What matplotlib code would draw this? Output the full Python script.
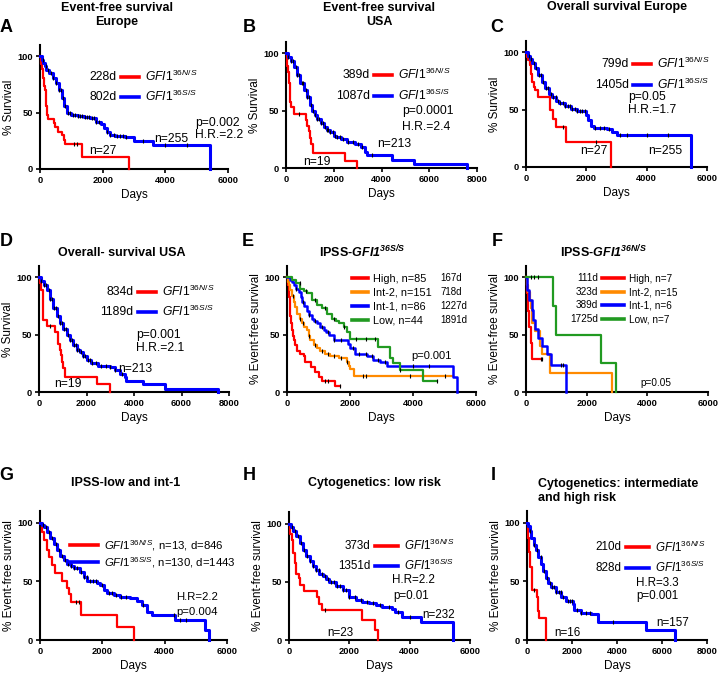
import numpy as np
import matplotlib
matplotlib.use("Agg")
import matplotlib.pyplot as plt
from matplotlib.lines import Line2D

plt.rcParams['font.family'] = ['Liberation Sans', 'DejaVu Sans']
plt.rcParams['mathtext.fontset'] = 'custom'
plt.rcParams['mathtext.rm'] = 'Liberation Sans'
plt.rcParams['mathtext.it'] = 'Liberation Sans:italic'
plt.rcParams['mathtext.bf'] = 'Liberation Sans:bold'
plt.rcParams['mathtext.bfit'] = 'Liberation Sans:italic:bold'

RED = '#ff0000'
BLUE = '#0000ff'
ORANGE = '#ff8a00'
GREEN = '#219a21'

NS = r'$\mathit{GFI1}^{\mathit{36N/S}}$'
SS = r'$\mathit{GFI1}^{\mathit{36S/S}}$'

#### data: (days, % surviving) step points + censor times
## A  event-free survival, Europe
a_ns_t = [0, 20, 40, 60, 80, 100, 120, 140, 160, 180, 200, 228, 270, 460, 480, 560, 700, 760, 800, 1330, 2850]
a_ns_s = [100, 96, 93, 89, 85, 81, 78, 74, 70, 63, 56, 48, 44, 41, 37, 33, 30, 26, 22, 11, 0]
a_ns_c = [1080, 1190]
a_ss_t = [0, 50, 100, 150, 200, 300, 400, 500, 600, 700, 780, 850, 1000, 1200, 1400, 1600, 1800, 1950, 2050, 2150, 2250, 2400, 2700, 3000, 3600, 5420]
a_ss_s = [100, 97, 94, 91, 88, 85, 81, 76, 70, 63, 56, 50, 48, 47, 46, 45, 42, 40, 36, 33, 30, 29, 28, 25, 21, 0]
a_ss_c = [90, 180, 260, 350, 430, 520, 600, 660, 720, 800, 900, 960, 1040, 1120, 1200, 1270, 1350, 1430,
          1500, 1570, 1650, 1720, 1800, 1880, 2150, 2250, 2350, 2450, 2550, 2650, 2750, 3300, 4000, 4700]

## B  event-free survival, USA
b_ns_t = [0, 30, 60, 90, 120, 150, 180, 210, 350, 850, 900, 950, 1000, 1060, 1150, 2480, 2970]
b_ns_s = [100, 95, 89, 84, 74, 63, 58, 53, 47, 42, 37, 32, 26, 21, 13, 6.5, 0]
b_ns_c = [530]
b_ss_t = [0, 100, 200, 320, 450, 600, 750, 880, 1000, 1090, 1200, 1300, 1450, 1580, 1700, 1860, 2000, 2100,
          2300, 2550, 2900, 3150, 3300, 3400, 4440, 5350, 7580]
b_ss_s = [100, 97, 93, 88, 81, 74, 68, 62, 55, 50, 46, 43, 39, 36, 33, 31, 28, 27, 25.5, 23, 21, 18, 14, 11, 7.3, 3.8, 0]
b_ss_c = [100, 200, 300, 400, 480, 560, 650, 730, 820, 900, 980, 1060, 1140, 1220, 1300, 1380, 1460, 1540,
          1620, 1700, 1780, 1860, 1950, 2050, 2150, 2250, 2400, 2600, 2800, 3000, 3200, 3600]

## C  overall survival, Europe
c_ns_t = [0, 40, 80, 130, 160, 190, 250, 300, 385, 790, 900, 990, 1340, 2830]
c_ns_s = [100, 96, 93, 89, 81, 74, 70, 67, 61, 50, 42, 35, 22, 0]
c_ns_c = [1230, 2330]
c_ss_t = [0, 60, 120, 190, 300, 410, 520, 630, 750, 850, 1000, 1100, 1290, 1500, 1700, 1950, 2000, 2070,
          2150, 2250, 2700, 2850, 3000, 5470]
c_ss_s = [100, 97, 94, 91, 86, 80, 74, 69, 64, 61, 58, 56, 53, 51, 49, 49, 45, 41, 36, 34, 33, 30.5, 27.7, 0]
c_ss_c = [100, 180, 260, 340, 420, 500, 580, 660, 740, 820, 900, 980, 1060, 1140, 1220, 1300, 1380, 1460,
          1540, 1620, 1700, 1780, 1860, 1940, 2300, 2450, 2600, 2750, 3100, 3350, 4000, 4700]

## D  overall survival, USA
d_ns_t = [0, 50, 100, 155, 330, 680, 780, 820, 870, 920, 980, 1030, 1090, 2450, 2980]
d_ns_s = [100, 95, 89, 63, 58, 52, 47, 42, 37, 32, 26, 21, 13, 7, 0]
d_ns_c = [460]
d_ss_t = [0, 100, 200, 320, 450, 600, 750, 880, 1000, 1160, 1300, 1440, 1600, 1720, 1850, 2000, 2200, 2500,
          2980, 3200, 3400, 3600, 3650, 4385, 5300, 7540]
d_ss_s = [100, 97, 93, 89, 81, 73, 66, 60, 55, 50, 45, 41, 37, 35, 31, 28, 25.5, 23, 22, 19, 16, 13, 10, 6.7, 2.9, 0]
d_ss_c = [100, 200, 300, 400, 480, 560, 650, 730, 820, 900, 980, 1060, 1140, 1220, 1300, 1380, 1460, 1540,
          1620, 1700, 1780, 1860, 1950, 2050, 2150, 2250, 2400, 2600, 2800, 3000, 3200, 3500]

## E  IPSS groups within GFI1 36S/S
e_high_t = [0, 20, 50, 80, 105, 130, 158, 185, 210, 264, 317, 422, 528, 580, 770, 900, 1000, 1110, 1510, 1670]
e_high_s = [100, 93, 83, 75, 66, 60, 54, 49, 45, 41, 36, 33.5, 31, 26, 22, 17.5, 13, 9.6, 5, 5]
e_high_c = [1200, 1300, 1670]
e_int2_t = [0, 30, 60, 105, 150, 210, 260, 317, 400, 475, 550, 634, 700, 740, 845, 950, 1056, 1214, 1373,
            1637, 1900, 1960, 2006, 2112, 5280]
e_int2_s = [100, 96, 93, 89, 84, 79, 74, 68.5, 64, 60, 57, 54, 49, 45, 41, 38, 36, 33.5, 31, 30, 26, 23, 20, 14, 14]
e_int2_c = [200, 400, 500, 700, 900, 1100, 1300, 1500, 1700, 1900, 2400, 2500, 3900, 5000]
e_int1_t = [0, 80, 150, 210, 300, 370, 430, 475, 550, 634, 700, 790, 870, 950, 1050, 1160, 1250, 1320, 1480,
            1850, 1950, 2010, 2165, 2535, 2745, 2957, 3168, 5280, 5410]
e_int1_s = [100, 98, 96, 93, 90, 87.5, 83, 79, 75, 71, 67, 64, 62, 60, 57, 54, 52, 49.6, 45, 45, 42, 38, 33.5,
            31, 27.7, 26, 22.7, 13, 0]
e_int1_c = [300, 500, 700, 900, 1100, 1300, 1500, 1700, 2100, 2300, 2500, 2700, 2900, 3100, 4000, 4500]
e_low_t = [0, 150, 300, 422, 550, 634, 790, 950, 1110, 1267, 1425, 1550, 1637, 1795, 1900, 2006, 2904, 3273,
           3380, 3600, 4330, 4750]
e_low_s = [100, 98, 95, 90, 88, 86, 80, 76, 73, 68.5, 64, 62, 60, 57, 52, 46.6, 39, 30, 25, 19.5, 10, 10]
e_low_c = [400, 600, 900, 1200, 1500, 1800, 2200, 2500, 2800, 3600, 4750]

## F  IPSS groups within GFI1 36N/S
f_high_t = [0, 30, 80, 111, 150, 200, 520]
f_high_s = [100, 86, 71, 57, 43, 28.6, 28.6]
f_high_c = [480, 520]
f_int2_t = [0, 40, 77, 130, 165, 210, 300, 460, 515, 790, 2820]
f_int2_s = [100, 93, 87, 80, 73, 60, 53, 40, 33, 17, 0]
f_int2_c = []
f_int1_t = [0, 40, 100, 200, 240, 300, 390, 520, 680, 830, 1330]
f_int1_s = [100, 89, 80, 72, 63, 55, 47, 40, 33, 24, 0]
f_int1_c = [1170, 1230]
f_low_t = [0, 900, 990, 2460, 2960]
f_low_s = [100, 75, 50, 25, 0]
f_low_c = [150, 250, 400]

## G  IPSS low and int-1
g_ns_t = [0, 60, 120, 225, 280, 385, 490, 710, 870, 920, 980, 1300, 2470, 3000]
g_ns_s = [100, 92, 85, 77, 71, 64, 57, 50, 44, 39, 32, 21, 11, 0]
g_ns_c = [1150, 1250]
g_ss_t = [0, 60, 120, 225, 330, 440, 550, 650, 760, 870, 980, 1080, 1290, 1400, 1510, 1830, 1940, 2040, 2150,
          2365, 2580, 2900, 3110, 3270, 3430, 3600, 4340, 5310, 5410]
g_ss_s = [100, 98, 96, 92, 87, 82, 77, 72, 68, 65, 63, 61, 58, 54, 50, 49, 47, 43, 40, 38, 37, 35.5, 33, 30,
          24, 21, 17, 8.5, 0]
g_ss_c = [100, 200, 300, 400, 500, 600, 700, 800, 900, 1000, 1100, 1200, 1300, 1400, 1500, 1600, 1700, 1800,
          2000, 2200, 2300, 2450, 2600, 2750, 3300, 4300, 4500, 4700]

## H  cytogenetics low risk
h_ns_t = [0, 40, 90, 130, 186, 240, 320, 350, 495, 930, 1010, 1090, 2435, 2850, 2960]
h_ns_s = [100, 91, 86, 75, 66, 57, 53, 47, 42, 37, 31, 26, 17, 8.7, 0]
h_ns_c = [1200]
h_ss_t = [0, 60, 120, 240, 350, 460, 570, 680, 790, 900, 1010, 1120, 1230, 1340, 1560, 1780, 2000, 2215, 2435,
          2655, 2875, 3090, 3420, 3530, 3750, 4390, 5450]
h_ss_s = [100, 97, 94, 89, 83, 77.6, 72, 67.5, 64, 60, 57, 54.6, 52, 50, 46.5, 43, 37, 34.5, 33, 31.6, 30,
          28.7, 27, 24, 20, 15.8, 0]
h_ss_c = [100, 200, 300, 400, 500, 600, 700, 800, 900, 1000, 1100, 1200, 1300, 1400, 1500, 1600, 1700, 1800,
          1900, 2000, 2200, 2400, 2600, 2800, 3000, 3300, 3600, 4000]

## I  cytogenetics intermediate and high risk
i_ns_t = [0, 30, 60, 100, 150, 210, 430, 475, 500, 550, 845]
i_ns_s = [100, 94, 87, 75, 62, 43, 37, 31, 25, 18.5, 0]
i_ns_c = [330]
i_ss_t = [0, 60, 120, 180, 290, 400, 510, 620, 730, 845, 950, 1066, 1290, 1510, 1730, 2030, 2100, 2400, 2840,
          3170, 5290, 6575]
i_ss_s = [100, 97, 93, 86.6, 81, 76.7, 71, 65, 59, 52.5, 49, 45.5, 41, 37, 33.5, 30.7, 25.6, 23, 22, 15.6, 8.5, 0]
i_ss_c = [150, 300, 450, 600, 750, 900, 1000, 1100, 1200, 1300, 1400, 1500, 1600, 1800, 1900, 2000, 2200,
          2400, 2600, 2800, 3800]

W, H = 718, 676
fig = plt.figure(figsize=(W / 100, H / 100), dpi=100)


def px_axes(left, base, width, height):
    return fig.add_axes([left / W, (H - base) / H, width / W, height / H])


def setup(ax, xmax, ylabel):
    ax.set_xlim(0, xmax)
    ax.set_ylim(0, 110)
    ax.set_xticks(range(0, xmax + 1, 2000))
    ax.set_yticks([0, 50, 100])
    for sp in ['top', 'right']:
        ax.spines[sp].set_visible(False)
    for sp in ['left', 'bottom']:
        ax.spines[sp].set_linewidth(1.5)
    ax.tick_params(direction='out', length=3, width=1.2, labelsize=6.7, pad=2)
    for lab in ax.get_xticklabels() + ax.get_yticklabels():
        lab.set_fontweight('bold')
    ax.set_xlabel('Days', fontsize=8.5, labelpad=3)
    ax.set_ylabel(ylabel, fontsize=8.5, labelpad=2)


def km(ax, t, s, c, color, lw):
    ax.step(t, s, where='post', color=color, lw=lw, clip_on=False, zorder=3)
    t = np.asarray(t)
    s = np.asarray(s)
    if len(c):
        idx = np.searchsorted(t, c, side='right') - 1
        ax.plot(c, s[idx], ls='none', marker='|', ms=2.6, mew=0.8, color='k', zorder=4, clip_on=False)


def legend(ax, colors, labels, anchor, fs=8.7, spacing=0.45, days=None, days_right=None, hl=1.5):
    handles = [Line2D([], [], color=c, lw=2.6) for c in colors]
    leg = ax.legend(handles, labels, loc='upper left', bbox_to_anchor=anchor, frameon=False,
                    fontsize=fs, handlelength=hl, handletextpad=0.5, labelspacing=spacing,
                    borderpad=0, borderaxespad=0)
    for h, d in zip(leg.legend_handles, days or []):
        ax.annotate(d, xy=(0, 0.5), xycoords=h, xytext=(-3, 0), textcoords='offset points',
                    ha='right', va='center', fontsize=fs, zorder=10)
    for h, d in zip(leg.legend_handles, days_right or []):
        ax.annotate(d, xy=(1, 0.5), xycoords=(leg, h), xytext=(6, 0), textcoords='offset points',
                    ha='left', va='center', fontsize=fs - 0.8, zorder=10)
    return leg


def note(ax, x, y, s, fs=8.7):
    ax.text(x, y, s, fontsize=fs, ha='left', va='center', clip_on=False)


def ftext(x, y, s, size=9, ha='center', **kw):
    fig.text(x / W, 1 - y / H, s, fontsize=size, fontweight='bold', ha=ha, va='center', **kw)


# ---- A
ax = px_axes(40, 169, 188, 124)
setup(ax, 6000, '% Survival')
km(ax, a_ns_t, a_ns_s, a_ns_c, RED, 1.6)
km(ax, a_ss_t, a_ss_s, a_ss_c, BLUE, 2.2)
legend(ax, [RED, BLUE], [NS, SS], (0.43, 0.81), days=['228d', '802d'])
note(ax, 4940, 41, 'p=0.002')
note(ax, 4940, 30, 'H.R.=2.2')
note(ax, 3640, 27, 'n=255')
note(ax, 1570, 16, 'n=27')

# ---- B
ax = px_axes(286, 168, 191, 126)
setup(ax, 8000, '% Survival')
km(ax, b_ns_t, b_ns_s, b_ns_c, RED, 1.6)
km(ax, b_ss_t, b_ss_s, b_ss_c, BLUE, 2.2)
legend(ax, [RED, BLUE], [NS, SS], (0.46, 0.80), days=['389d', '1087d'])
note(ax, 4860, 50, 'p=0.0001')
note(ax, 4860, 36, 'H.R.=2.4')
note(ax, 3810, 20.7, 'n=213')
note(ax, 710, 5, 'n=19')

# ---- C
ax = px_axes(526, 167, 181, 126)
setup(ax, 6000, '% Survival')
km(ax, c_ns_t, c_ns_s, c_ns_c, RED, 1.6)
km(ax, c_ss_t, c_ss_s, c_ss_c, BLUE, 2.2)
legend(ax, [RED, BLUE], [NS, SS], (0.59, 0.88), days=['799d', '1405d'])
note(ax, 3380, 61, 'p=0.05')
note(ax, 3380, 49.6, 'H.R.=1.7')
note(ax, 1780, 14, 'n=27')
note(ax, 4060, 14, 'n=255')

# ---- D
ax = px_axes(39, 392, 190, 126)
setup(ax, 8000, '% Survival')
km(ax, d_ns_t, d_ns_s, d_ns_c, RED, 1.6)
km(ax, d_ss_t, d_ss_s, d_ss_c, BLUE, 2.2)
legend(ax, [RED, BLUE], [NS, SS], (0.52, 0.86), days=['834d', '1189d'])
note(ax, 4100, 49.6, 'p=0.001')
note(ax, 4100, 38, 'H.R.=2.1')
note(ax, 3330, 20, 'n=213')
note(ax, 630, 6.7, 'n=19')

# ---- E
ax = px_axes(287, 392, 189, 126)
setup(ax, 6000, '% Event-free survival')
km(ax, e_high_t, e_high_s, e_high_c, RED, 1.6)
km(ax, e_int2_t, e_int2_s, e_int2_c, ORANGE, 1.6)
km(ax, e_int1_t, e_int1_s, e_int1_c, BLUE, 1.8)
km(ax, e_low_t, e_low_s, e_low_c, GREEN, 1.6)
legend(ax, [RED, ORANGE, BLUE, GREEN], ['High, n=85', 'Int-2, n=151', 'Int-1, n=86', 'Low, n=44'],
       (0.343, 0.935), fs=7.8, spacing=0.35, days_right=['167d', '718d', '1227d', '1891d'])
note(ax, 3960, 31, 'p=0.001', fs=8)

# ---- F
ax = px_axes(526, 392, 182, 126)
setup(ax, 6000, '% Event-free survival')
km(ax, f_high_t, f_high_s, f_high_c, RED, 1.6)
km(ax, f_int2_t, f_int2_s, f_int2_c, ORANGE, 1.6)
km(ax, f_int1_t, f_int1_s, f_int1_c, BLUE, 1.8)
km(ax, f_low_t, f_low_s, f_low_c, GREEN, 1.6)
legend(ax, [RED, ORANGE, BLUE, GREEN], ['High, n=7', 'Int-2, n=15', 'Int-1, n=6', 'Low, n=7'],
       (0.42, 0.94), fs=7.2, spacing=0.35, days=['111d', '323d', '389d', '1725d'], hl=2.2)
note(ax, 3770, 8, 'p=0.05', fs=7.2)

# ---- G
ax = px_axes(40, 640, 187, 129)
setup(ax, 6000, '% Event-free survival')
km(ax, g_ns_t, g_ns_s, g_ns_c, RED, 1.6)
km(ax, g_ss_t, g_ss_s, g_ss_c, BLUE, 2.2)
legend(ax, [RED, BLUE], [NS + ', n=13, d=846', SS + ', n=130, d=1443'], (0.16, 0.79), fs=8.2,
       spacing=0.2, hl=2.5)
note(ax, 4375, 37, 'H.R=2.2', fs=8.2)
note(ax, 4375, 24, 'p=0.004', fs=8.2)

# ---- H
ax = px_axes(289, 640, 181, 128)
setup(ax, 6000, '% Event-free survival')
km(ax, h_ns_t, h_ns_s, h_ns_c, RED, 1.6)
km(ax, h_ss_t, h_ss_s, h_ss_c, BLUE, 2.2)
legend(ax, [RED, BLUE], [NS, SS], (0.475, 0.80), fs=8.4, days=['373d', '1351d'], hl=2.0)
note(ax, 3400, 51.7, 'H.R=2.2', fs=8.4)
note(ax, 3445, 38, 'p=0.01', fs=8.4)
note(ax, 4410, 21.5, 'n=232', fs=8.4)
note(ax, 1280, 6, 'n=23', fs=8.4)

# ---- I
ax = px_axes(527, 640, 180, 129)
setup(ax, 8000, '% Event-free survival')
km(ax, i_ns_t, i_ns_s, i_ns_c, RED, 1.6)
km(ax, i_ss_t, i_ss_s, i_ss_c, BLUE, 2.2)
legend(ax, [RED, BLUE], [NS, SS], (0.55, 0.78), fs=8.4, days=['210d', '828d'], hl=2.0)
note(ax, 4840, 49, 'H.R=3.3', fs=8.4)
note(ax, 4840, 37.5, 'p=0.001', fs=8.4)
note(ax, 5730, 14.8, 'n=157', fs=8.4)
note(ax, 1210, 5.7, 'n=16', fs=8.4)

# ---- titles and panel letters
ftext(117, 15, 'Event-free survival\nEurope', linespacing=1.15)
ftext(379, 15, 'Event-free survival\nUSA', linespacing=1.15)
ftext(617, 7, 'Overall survival Europe')
ftext(122, 253, 'Overall- survival USA')
ftext(362, 252, r'IPSS-$\mathbfit{GFI1}^{\mathbfit{36S/S}}$')
ftext(603, 252, r'IPSS-$\mathbfit{GFI1}^{\mathbfit{36N/S}}$')
ftext(126, 483, 'IPSS-low and int-1')
ftext(374, 483, 'Cytogenetics: low risk')
ftext(538, 491, 'Cytogenetics: intermediate\nand high risk', ha='left', linespacing=1.15)
for letter, x, y in [('A', 6, 28), ('B', 249, 28), ('C', 497, 28), ('D', 6, 241), ('E', 248, 242),
                     ('F', 497, 241), ('G', 6, 475), ('H', 249, 475), ('I', 493, 475)]:
    ftext(x, y, letter, size=13)

fig.canvas.draw()
fig.savefig('out.png', dpi=100)
